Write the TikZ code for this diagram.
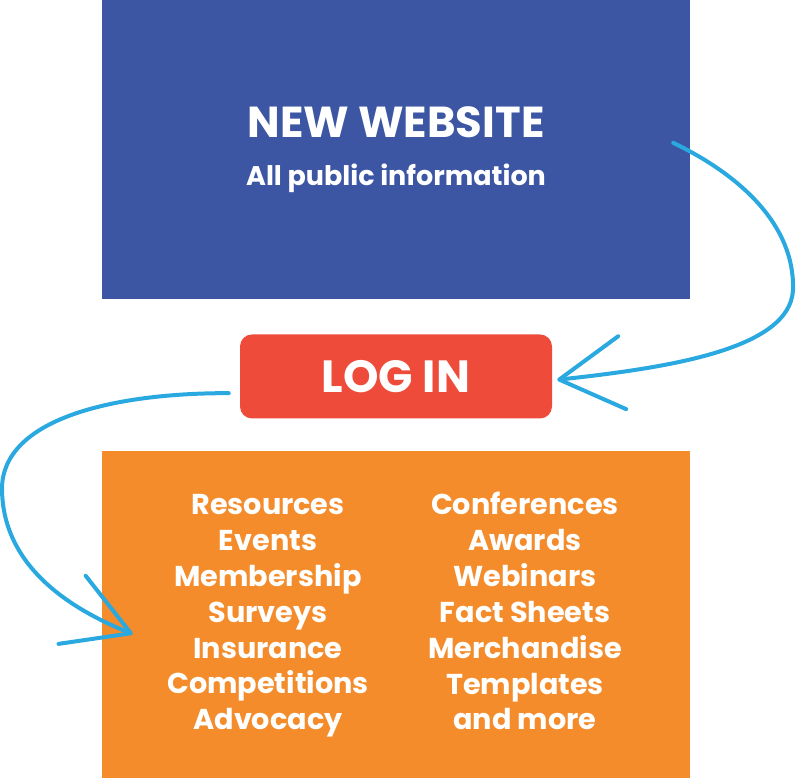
\documentclass[tikz,border=0pt]{standalone}
\usepackage{fontspec}
\setmainfont{Poppins}
\usetikzlibrary{arrows.meta,positioning}
\definecolor{sitblue}{HTML}{3C56A4}
\definecolor{sitred}{HTML}{EE4B3A}
\definecolor{sitorange}{HTML}{F58C2B}
\definecolor{sitarrow}{HTML}{2AA8E0}
\tikzset{
  panel/.style={fill=#1,inner sep=0pt,text=white,font=\bfseries,align=center},
  topic/.style={text=white,font=\bfseries\fontsize{24.5}{30.6}\selectfont,align=center,inner sep=0pt},
  flow/.style={-{Straight Barb[length=19mm,width=22mm,round]},line width=1.2mm,color=sitarrow,line cap=round},
}

\begin{document}
\begin{tikzpicture}[x=0.3mm,y=-0.3mm]
\useasboundingbox (0,0) rectangle (796,778);
\node[panel=sitblue,minimum width=176.4mm,minimum height=89.7mm] (web) at (396,149.5)
  {\fontsize{37}{38.4}\selectfont NEW WEBSITE\\[7.5mm]
   \fontsize{23}{38.4}\selectfont All public information};
\node[panel=sitred,rounded corners=3.6mm,minimum width=93.6mm,minimum height=25.2mm,
  below=10.5mm of web,font=\bfseries\fontsize{38.5}{40}\selectfont] (login) {LOG IN};
\node[panel=sitorange,minimum width=176.4mm,minimum height=98.4mm,below=9.6mm of login] (topics) {};
% the two columns of what is behind the log in
\node[topic] (leftlist) at ([xshift=-38.4mm,yshift=-0.3mm]topics.center)
  {Resources\\Events\\Membership\\Surveys\\Insurance\\Competitions\\Advocacy};
\node[topic] (rightlist) at ([xshift=38.7mm,yshift=1.1mm]topics.center)
  {Conferences\\Awards\\Webinars\\Fact Sheets\\Merchandise\\Templates\\and more};
% arrows
\coordinate (out1) at ([xshift=-5.1mm,yshift=2mm]web.east);
\coordinate (out2) at ([xshift=-3.3mm,yshift=-5mm]login.west);
\coordinate (in2) at ([xshift=9.3mm,yshift=-55mm]topics.north west);
\draw[flow] (out1) .. controls (740,175) and (795,225) .. (793,290)
  .. controls (790,350) and (665,368) .. ([xshift=1.5mm,yshift=-1mm]login.east);
\draw[flow] (out2) .. controls (110,393) and (3,420) .. (2,488)
  .. controls (2,560) and (60,605) .. (in2);
\end{tikzpicture}
\end{document}
